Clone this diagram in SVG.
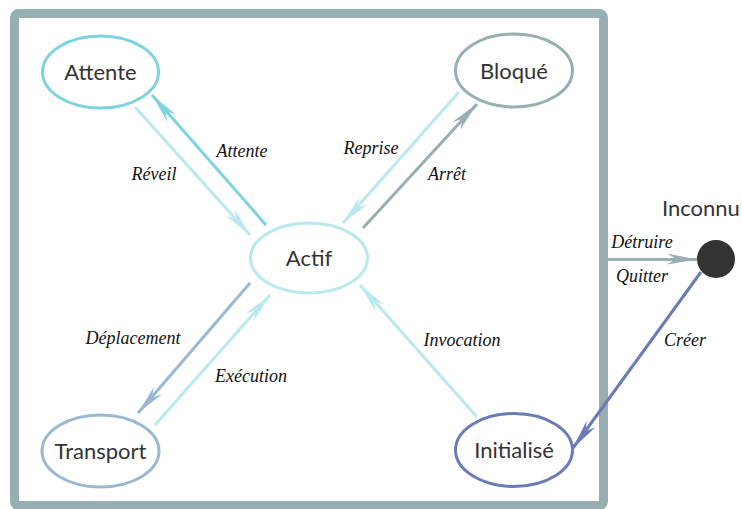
<svg xmlns="http://www.w3.org/2000/svg" width="742" height="509" viewBox="0 0 742 509">
<style>
.frame{fill:none;stroke:#97AFB1;stroke-width:9}
.node{fill:#fff;stroke-width:3}
.nl{font-family:Lato,"Open Sans","Liberation Sans",sans-serif;font-size:22px;fill:#333;text-anchor:middle}
.el{font-family:"Liberation Serif",serif;font-style:italic;font-size:18px;fill:#111;text-anchor:middle}
.e{fill:none;stroke-width:3}
</style>
<defs>
<marker id="mA" markerUnits="userSpaceOnUse" viewBox="-32 -8 34 16" refX="0" refY="0" markerWidth="34" markerHeight="16" orient="auto"><path d="M0,0 L-30,-6 L-21,-0.5 L-30,5 Z" fill="#7DD3DE"/></marker>
<marker id="mL" markerUnits="userSpaceOnUse" viewBox="-32 -8 34 16" refX="0" refY="0" markerWidth="34" markerHeight="16" orient="auto"><path d="M0,0 L-30,-6 L-21,-0.5 L-30,5 Z" fill="#B9E8EE"/></marker>
<marker id="mG" markerUnits="userSpaceOnUse" viewBox="-32 -8 34 16" refX="0" refY="0" markerWidth="34" markerHeight="16" orient="auto"><path d="M0,0 L-30,-6 L-21,-0.5 L-30,5 Z" fill="#97AFB1"/></marker>
<marker id="mT" markerUnits="userSpaceOnUse" viewBox="-32 -8 34 16" refX="0" refY="0" markerWidth="34" markerHeight="16" orient="auto"><path d="M0,0 L-30,-6 L-21,-0.5 L-30,5 Z" fill="#9BB8D3"/></marker>
<marker id="mI" markerUnits="userSpaceOnUse" viewBox="-32 -8 34 16" refX="0" refY="0" markerWidth="34" markerHeight="16" orient="auto"><path d="M0,0 L-30,-6 L-21,-0.5 L-30,5 Z" fill="#6A7BB8"/></marker>
</defs>
<rect class="frame" x="14.5" y="13.5" width="589" height="492" rx="4"/>
<g id="connectors">
<line class="e" stroke="#7DD3DE" x1="266" y1="225" x2="152" y2="95" marker-end="url(#mA)"/>
<line class="e" stroke="#B9E8EE" x1="135" y1="107" x2="250" y2="235" marker-end="url(#mL)"/>
<line class="e" stroke="#B9E8EE" x1="459" y1="92" x2="343" y2="223" marker-end="url(#mL)"/>
<line class="e" stroke="#97AFB1" x1="363" y1="228" x2="477" y2="104" marker-end="url(#mG)"/>
<line class="e" stroke="#9BB8D3" x1="250" y1="283" x2="138" y2="413" marker-end="url(#mT)"/>
<line class="e" stroke="#B9E8EE" x1="155" y1="425" x2="270" y2="295" marker-end="url(#mL)"/>
<line class="e" stroke="#B9E8EE" x1="477" y1="417" x2="360" y2="285" marker-end="url(#mL)"/>
<line class="e" stroke="#97AFB1" x1="608" y1="259.5" x2="697" y2="259.5" marker-end="url(#mG)"/>
<line class="e" stroke="#6A7BB8" x1="701" y1="272" x2="573" y2="448" marker-end="url(#mI)"/>
<text class="el" x="242" y="157">Attente</text>
<text class="el" x="154" y="180">Réveil</text>
<text class="el" x="371" y="154">Reprise</text>
<text class="el" x="447" y="180">Arrêt</text>
<text class="el" x="133" y="344">Déplacement</text>
<text class="el" x="251" y="382">Exécution</text>
<text class="el" x="462" y="346">Invocation</text>
<text class="el" x="642" y="248">Détruire</text>
<text class="el" x="642" y="282">Quitter</text>
<text class="el" x="685" y="346">Créer</text>
</g>
<g id="attente"><ellipse class="node" stroke="#7DD3DE" cx="100.5" cy="72" rx="58" ry="36"/><text class="nl" x="100.5" y="80">Attente</text></g>
<g id="bloque"><ellipse class="node" stroke="#97AFB1" cx="514" cy="70.5" rx="58.5" ry="36.5"/><text class="nl" x="514" y="78.5">Bloqué</text></g>
<g id="actif"><ellipse class="node" stroke="#B9E8EE" cx="309" cy="258" rx="58.5" ry="35"/><text class="nl" x="309" y="266">Actif</text></g>
<g id="transport"><ellipse class="node" stroke="#9BB8D3" cx="100.5" cy="451" rx="58.5" ry="36"/><text class="nl" x="100.5" y="459">Transport</text></g>
<g id="initialise"><ellipse class="node" stroke="#6A7BB8" cx="514" cy="450" rx="58.5" ry="36.5"/><text class="nl" x="514" y="458">Initialisé</text></g>
<g id="inconnu"><circle cx="716" cy="259" r="19" fill="#333"/><text class="nl" x="662" y="216" style="text-anchor:start">Inconnu</text></g>
</svg>
